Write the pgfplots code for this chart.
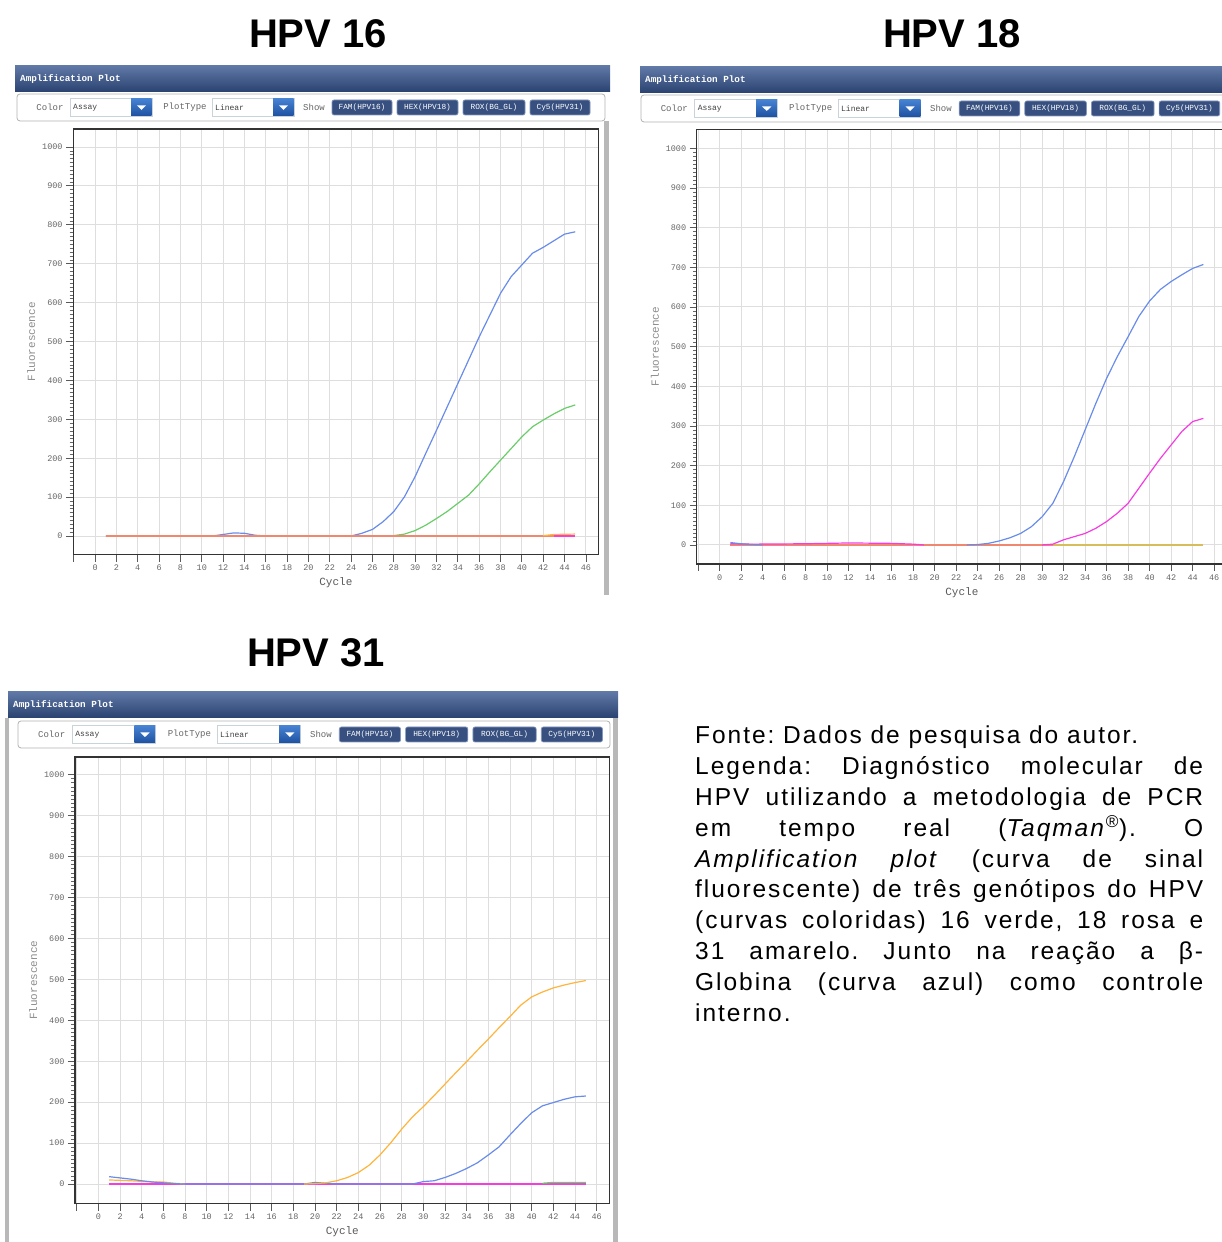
\documentclass[border=0pt]{standalone}
\usepackage{pgfplots}
\pgfplotsset{compat=1.18}
\usepackage{fontspec}
\setmainfont{Liberation Sans}
\newfontfamily\monofont{Liberation Mono}
\newfontfamily\capfont[LetterSpace=8]{Liberation Sans}

\definecolor{bar1}{RGB}{96,120,165}
\definecolor{bar2}{RGB}{42,66,112}
\definecolor{dd1}{RGB}{70,130,210}
\definecolor{dd2}{RGB}{30,80,160}
\definecolor{btnfill}{RGB}{55,80,128}
\definecolor{btnborder}{RGB}{130,150,190}
\definecolor{cblue}{RGB}{105,140,235}
\definecolor{cgreen}{RGB}{105,205,105}
\definecolor{cmag}{RGB}{245,60,225}
\definecolor{corange}{RGB}{255,180,60}
\definecolor{csalmon}{RGB}{240,135,110}
\definecolor{colive}{RGB}{215,190,90}

\tikzset{tbl/.style={font=\monofont\fontsize{9}{9}\selectfont, text=black!60, inner sep=0},
 tbs/.style={font=\monofont\fontsize{8}{8}\selectfont, text=black!75, inner sep=0},
 tbb/.style={font=\monofont\fontsize{7.8}{8}\selectfont, text=white, inner sep=0}}

\newcommand{\combo}[2]{%
  \draw[cyan!35!black!25, fill=white, line width=0.7pt] ({#1},-9) rectangle ({#1+82},9);
  \node[tbs, anchor=west] at ({#1+3},0) {#2};
  \shade[top color=dd1, bottom color=dd2] ({#1+61},-8.5) rectangle ({#1+81.5},8.5);
  \fill[white] ({#1+67},2) -- ({#1+76},2) -- ({#1+71.5},-2.5) -- cycle;}
\newcommand{\btn}[3]{%
  \draw[btnborder, fill=btnfill, rounded corners=2pt, line width=0.7pt] ({#1},-7.5) rectangle ({#2},7.5);
  \node[tbb] at ({(#1+#2)/2},0) {#3};}
\newcommand{\toolbar}[4]{%
 \draw[black!30, fill=white, rounded corners=3pt, line width=0.8pt] ({#1},{#2-27}) rectangle ({#4},{#2});
 \begin{scope}[shift={({#1},{#2-13.5})}, xscale=#3]
  \node[tbl] at (33,0) {Color};
  \combo{53}{Assay}
  \node[tbl] at (168,0) {PlotType};
  \combo{195}{Linear}
  \node[tbl] at (297,0) {Show};
  \btn{315}{375}{FAM(HPV16)}
  \btn{380}{441}{HEX(HPV18)}
  \btn{446}{508}{ROX(BG\_GL)}
  \btn{513}{573}{Cy5(HPV31)}
 \end{scope}}
\newcommand{\titlebar}[3]{% x0, Ybottom, x1
 \shade[top color=bar1, bottom color=bar2] ({#1},{#2}) rectangle ({#3},{#2+26});
 \node[anchor=west, inner sep=0, text=white, font=\monofont\bfseries\fontsize{9.3}{9.5}\selectfont] at ({#1+5},{#2+13}) {Amplification Plot};}

\pgfplotsset{qpcr/.style={
 scale only axis, anchor=south west,
 ymin=-48,
 axis line style={black!80, line width=1.2pt},
 tick pos=left, tick align=outside,
 xtick={-2,0,...,46},
 xticklabels={,0,2,4,6,8,10,12,14,16,18,20,22,24,26,28,30,32,34,36,38,40,42,44,46},
 ytick={0,100,...,1000}, minor y tick num=9,
 major tick length=7pt, minor tick length=3.5pt,
 tick style={black!65, line width=0.8pt}, minor tick style={black!60, line width=0.6pt},
 grid=major, major grid style={black!13, line width=0.9pt},
 tick label style={font=\monofont\fontsize{8.5}{9}\selectfont, text=black!60},
 /pgf/number format/assume math mode=true, /pgf/number format/1000 sep={},
 xlabel={Cycle}, ylabel={Fluorescence},
 xlabel style={font=\monofont\fontsize{11}{11}\selectfont, text=black!65},
 ylabel style={font=\monofont\fontsize{11}{11}\selectfont, text=black!45, xshift=0pt},
 every axis plot/.append style={line width=1.2pt, line join=round, no marks},
}}

\begin{document}
\begin{tikzpicture}[x=1pt,y=1pt]
\path[use as bounding box] (0,0) rectangle (1221,1242);

% titles
\node[font=\bfseries\fontsize{40}{40}\selectfont] at (318,1208) {HPV 16};
\node[font=\bfseries\fontsize{40}{40}\selectfont] at (952,1208) {HPV 18};
\node[font=\bfseries\fontsize{40}{40}\selectfont] at (316,589) {HPV 31};

% window chrome
\titlebar{15}{1150}{610}
\toolbar{17}{1148}{1.0}{605}
\fill[black!28] (604,647) rectangle (609,1121);

\titlebar{640}{1149}{1235}
\toolbar{641}{1147}{1.01}{1235}

\titlebar{8}{524}{618}
\toolbar{18}{521}{1.02}{610}
\fill[black!28] (5,0) rectangle (9,524);
\fill[black!28] (613,0) rectangle (618,524);

% caption
\node[anchor=north west, inner sep=0, text width=508pt, align=justify,
      font=\capfont\fontsize{24.5}{30.8}\selectfont] at (695,516)
{\frenchspacing\tolerance=10000\hyphenpenalty=10000
Fonte: Dados de pesquisa do autor.\\
Legenda: Diagnóstico molecular de\linebreak
HPV utilizando a metodologia de PCR\linebreak
em tempo real (\textit{Taqman}\textsuperscript{®}). O\linebreak
\textit{Amplification plot} (curva de sinal\linebreak
fluorescente) de três genótipos do HPV\linebreak
(curvas coloridas) 16 verde, 18 rosa e\linebreak
31 amarelo. Junto na reação a β-\linebreak
Globina (curva azul) como controle\linebreak
interno.};

% ---------- HPV 16 ----------
\begin{axis}[qpcr, at={(73.1pt,687.3pt)}, width=525.6pt, height=425.6pt,
  xmin=-2.06, xmax=47.2, ymax=1046]
\addplot[cgreen] coordinates {(1,0)(27,0)(28,1)(29,5)(30,14)(31,28)(32,45)(33,63)(34,84)(35,105)(36,134)(37,165)(38,195)(39,225)(40,255)(41,281)(42,298)(43,314)(44,328)(45,337)};
\addplot[cblue] coordinates {(1,0)(11,0)(12,4)(13,8)(14,7)(15,2)(16,0)(24,0)(25,7)(26,17)(27,37)(28,63)(29,101)(30,153)(31,213)(32,272)(33,332)(34,392)(35,452)(36,512)(37,568)(38,624)(39,667)(40,697)(41,727)(42,742)(43,759)(44,776)(45,782)};
\addplot[csalmon, line width=1.6pt] coordinates {(1,0)(45,0)};
\addplot[corange] coordinates {(42,1)(43,4)(45,5)};
\addplot[cmag] coordinates {(43,0)(45,0)};
\end{axis}

% ---------- HPV 18 ----------
\begin{axis}[qpcr, at={(696.7pt,678pt)}, width=530.3pt, height=434.8pt,
  xmin=-2.13, xmax=47.2, ymax=1048]
\addplot[colive, line width=1.5pt] coordinates {(1,0)(45,0)};
\addplot[csalmon, line width=1.5pt] coordinates {(1,0)(31,0)};
\addplot[cmag] coordinates {(1,3)(3,2)(8,3)(12,5)(16,4)(18,2)(19,0)};
\addplot[cmag] coordinates {(30,0)(31,2)(32,13)(33,21)(34,29)(35,42)(36,59)(37,80)(38,105)(39,143)(40,181)(41,218)(42,252)(43,286)(44,311)(45,319)};
\addplot[cblue] coordinates {(1,6)(2,3)(3,1)(4,0)};
\addplot[cblue] coordinates {(23,0)(24,1)(25,4)(26,10)(27,18)(28,29)(29,46)(30,71)(31,105)(32,160)(33,223)(34,290)(35,357)(36,420)(37,475)(38,525)(39,576)(40,615)(41,644)(42,664)(43,681)(44,697)(45,707)};
\end{axis}

% ---------- HPV 31 ----------
\begin{axis}[qpcr, at={(75pt,38.3pt)}, width=534.6pt, height=446.7pt,
  xmin=-2.16, xmax=47.2, ymax=1043]
\addplot[cmag, line width=1.5pt] coordinates {(1,0)(45,0)};
\addplot[cgreen] coordinates {(41,2)(42,4)(45,4)};
\addplot[corange] coordinates {(1,10)(3,8)(5,5)(6,5)(7,2)(8,0)};
\addplot[cblue] coordinates {(1,18)(2,15)(3,12)(4,8)(5,5)(6,3)(7,1)(8,0)(19,0)(20,4)(21,2)(22,0)(29,0)(30,6)(31,8)(32,16)(33,26)(34,38)(35,52)(36,71)(37,91)(38,120)(39,148)(40,174)(41,191)(42,199)(43,207)(44,213)(45,215)};
\addplot[corange] coordinates {(19,0)(20,1)(21,3)(22,8)(23,16)(24,28)(25,46)(26,71)(27,101)(28,134)(29,164)(30,189)(31,216)(32,244)(33,272)(34,299)(35,327)(36,354)(37,382)(38,409)(39,437)(40,457)(41,469)(42,479)(43,486)(44,492)(45,497)};
\end{axis}
\end{tikzpicture}
\end{document}
